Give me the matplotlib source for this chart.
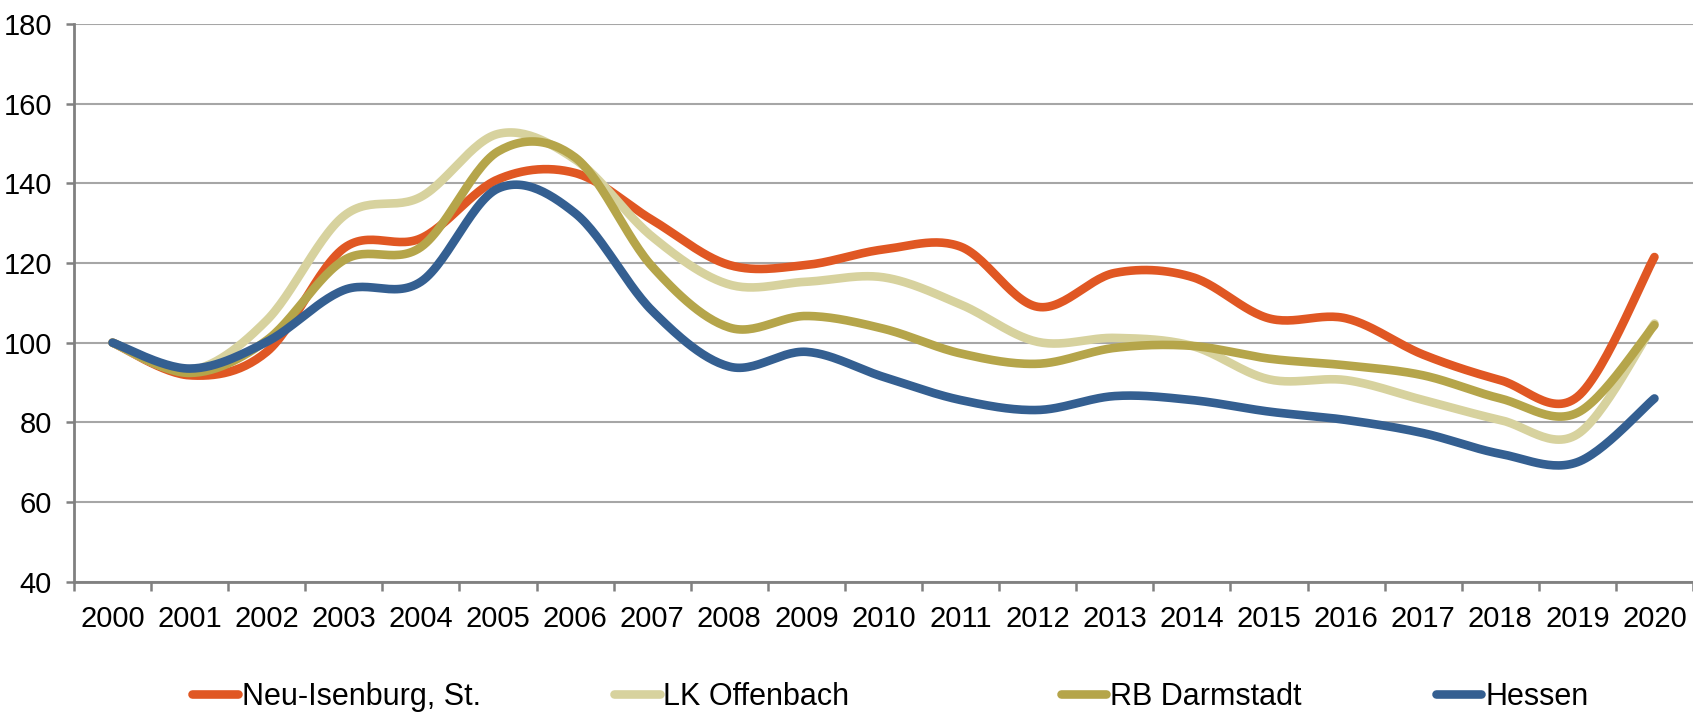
import numpy as np
import matplotlib
matplotlib.use("Agg")
import matplotlib.pyplot as plt
from matplotlib import font_manager

# pick a narrow sans if there is one
names = {f.name for f in font_manager.fontManager.ttflist}
FONT = "Liberation Sans Narrow" if "Liberation Sans Narrow" in names else "Liberation Sans"
plt.rcParams["font.family"] = [FONT, "DejaVu Sans"]

years = [str(y) for y in range(2000, 2021)]
neu_isenburg = [100, 91.8, 97.7, 123.7, 126.2, 141.0, 142.6, 130.8, 119.5, 119.5, 123.4,
                124.1, 109.0, 117.5, 116.5, 106.1, 106.1, 97.0, 90.6, 86.4, 121.5]
lk_offenbach = [100, 93.0, 105.6, 131.8, 136.6, 152.4, 146.0, 126.6, 114.6, 115.3, 116.4,
                109.6, 100.2, 101.2, 99.2, 90.8, 90.6, 85.6, 80.6, 77.0, 104.8]
rb_darmstadt = [100, 92.4, 100.6, 120.7, 124.0, 148.0, 146.5, 119.1, 103.8, 106.7, 103.5,
                97.3, 94.7, 98.7, 99.2, 96.0, 94.3, 91.8, 86.0, 82.4, 104.4]
hessen = [100, 93.5, 100.2, 113.2, 115.3, 138.7, 132.5, 108.0, 94.0, 97.7, 91.4,
          85.6, 83.1, 86.6, 85.6, 82.7, 80.6, 77.3, 72.1, 70.0, 86.0]

labels = ["Neu-Isenburg, St.", "LK Offenbach", "RB Darmstadt", "Hessen"]
colors = ["#E05723", "#D7D29E", "#B5A54A", "#345F91"]
# left edge of each legend entry (figure fraction)
legend_x = [0.1135, 0.3625, 0.6265, 0.848]


def smooth(x, y, n=30):
    """Excel-like smoothed line: cubic bezier with catmull-rom control points"""
    x = np.asarray(x, float)
    y = np.asarray(y, float)
    px = np.r_[x[0], x, x[-1]]
    py = np.r_[y[0], y, y[-1]]
    t = np.linspace(0, 1, n)[:, None]
    xs, ys = [], []
    for i in range(1, len(px) - 2):
        p0 = np.array([px[i], py[i]])
        p3 = np.array([px[i + 1], py[i + 1]])
        c1 = p0 + (p3 - np.array([px[i - 1], py[i - 1]])) / 6
        c2 = p3 - (np.array([px[i + 2], py[i + 2]]) - p0) / 6
        pts = ((1 - t) ** 3) * p0 + 3 * ((1 - t) ** 2) * t * c1 + 3 * (1 - t) * t ** 2 * c2 + t ** 3 * p3
        xs.append(pts[:, 0])
        ys.append(pts[:, 1])
    return np.concatenate(xs), np.concatenate(ys)


fig = plt.figure(figsize=(16.93, 7.2), dpi=100)
ax = fig.add_axes([0.0437, 0.1921, 0.9563, 0.7746])

x = np.arange(len(years))
lines = []
for vals, lab, col in zip([neu_isenburg, lk_offenbach, rb_darmstadt, hessen], labels, colors):
    sx, sy = smooth(x, vals)
    ln, = ax.plot(sx, sy, color=col, lw=6.2, label=lab, solid_capstyle="round", solid_joinstyle="round")
    lines.append(ln)

ax.set_xlim(-0.5, len(years) - 0.5)
ax.set_ylim(40, 180)
ax.set_yticks(np.arange(40, 181, 20))
ax.yaxis.grid(True, color="#A6A6A6", lw=1.5)
ax.set_axisbelow(True)

ax.set_xticks(x)
ax.set_xticklabels(years)
ax.set_xticks(np.arange(-0.5, len(years) + 0.5, 1), minor=True)
ax.tick_params(axis="x", which="major", length=0, pad=17, labelsize=21)
ax.tick_params(axis="x", which="minor", length=6.5, width=1.8, color="#808080", direction="out")
ax.tick_params(axis="y", length=6, width=1.8, color="#808080", pad=10, labelsize=21)

for s in ["top", "right"]:
    ax.spines[s].set_visible(False)
for s in ["left", "bottom"]:
    ax.spines[s].set_color("#808080")
    ax.spines[s].set_linewidth(2)

for ln, lx in zip(lines, legend_x):
    fig.legend(handles=[ln], loc="center left", bbox_to_anchor=(lx, 0.032), frameon=False,
               fontsize=22, handlelength=1.5, handletextpad=0.12,
               borderpad=0, borderaxespad=0)

fig.savefig("out.png", dpi=100)
